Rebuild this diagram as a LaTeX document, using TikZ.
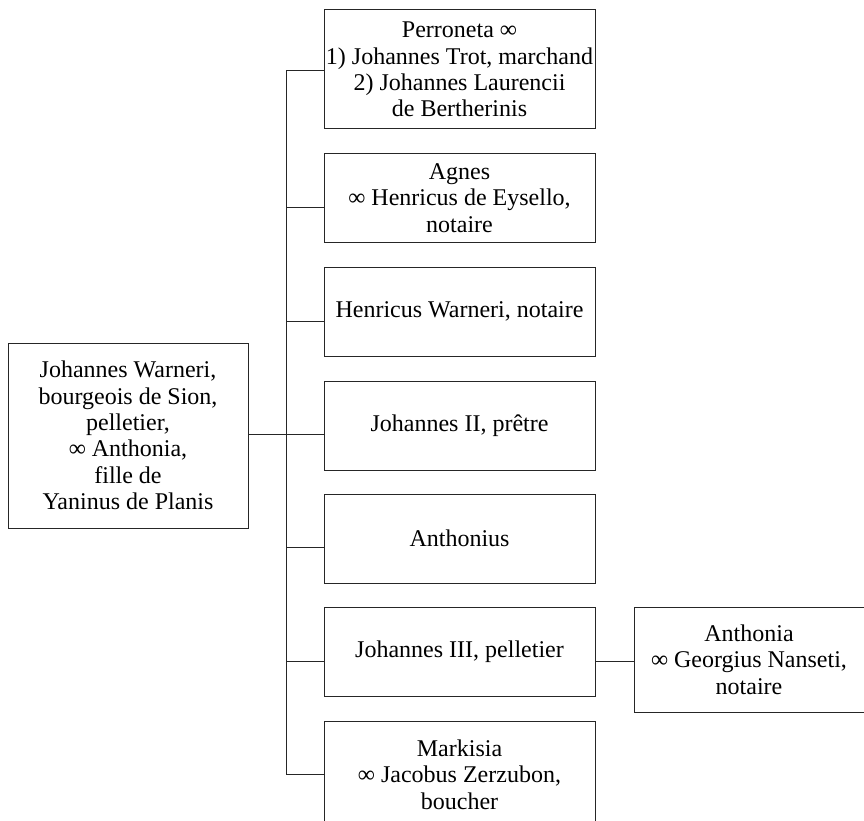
\documentclass[tikz,border=0pt]{standalone}
\usepackage{fontspec}
\setmainfont{Liberation Serif}
\begin{document}
\begin{tikzpicture}[x=1pt,y=-1pt,
  box/.style={draw=black!85, line width=1pt, inner sep=0pt, align=center,
    font=\fontsize{24}{26.4}\selectfont},
  kid/.style={box, minimum width=271pt, minimum height=89pt},
  link/.style={draw=black!85, line width=1pt}]
\useasboundingbox (0,0) rectangle (864,821);

% parent
\node[box, minimum width=240pt, minimum height=185pt] (p) at (128,435.5)
  {Johannes Warneri,\\bourgeois de Sion,\\pelletier,\\∞ Anthonia,\\fille de\\Yaninus de Planis};

% children
\node[box, minimum width=271pt, minimum height=119pt] (b1) at (459.5,69.5)
  {Perroneta ∞\\1) Johannes Trot, marchand\\2) Johannes Laurencii\\de Bertherinis};
\node[kid] (b2) at (459.5,198) {Agnes\\∞ Henricus de Eysello,\\notaire};
\node[kid] (b3) at (459.5,311.5) {Henricus Warneri, notaire};
\node[kid] (b4) at (459.5,425.5) {Johannes II, prêtre};
\node[kid] (b5) at (459.5,538.5) {Anthonius};
\node[kid] (b6) at (459.5,652) {Johannes III, pelletier};
\node[box, minimum width=271pt, minimum height=107pt] (b7) at (459.5,774.5)
  {Markisia\\∞ Jacobus Zerzubon,\\boucher};

% grandchild
\node[box, minimum width=230pt, minimum height=105pt] (g) at (749,659.5)
  {Anthonia\\∞ Georgius Nanseti,\\notaire};

% junctions on the trunk
\coordinate (j1) at (286,71);
\coordinate (j2) at (286,207);
\coordinate (j3) at (286,321);
\coordinate (j4) at (286,434);
\coordinate (j5) at (286,547);
\coordinate (j6) at (286,661);
\coordinate (j7) at (286,774);

\draw[link] (b1.west |- j1) -- (j1) -- (j7) -- (b7.west |- j7);
\foreach \i in {2,...,6} {
  \draw[link] (j\i) -- (b\i.west |- j\i);
}
\draw[link] (p.east |- j4) -- (j4);
\draw[link] (b6.east |- j6) -- (g.west |- j6);
\end{tikzpicture}
\end{document}
